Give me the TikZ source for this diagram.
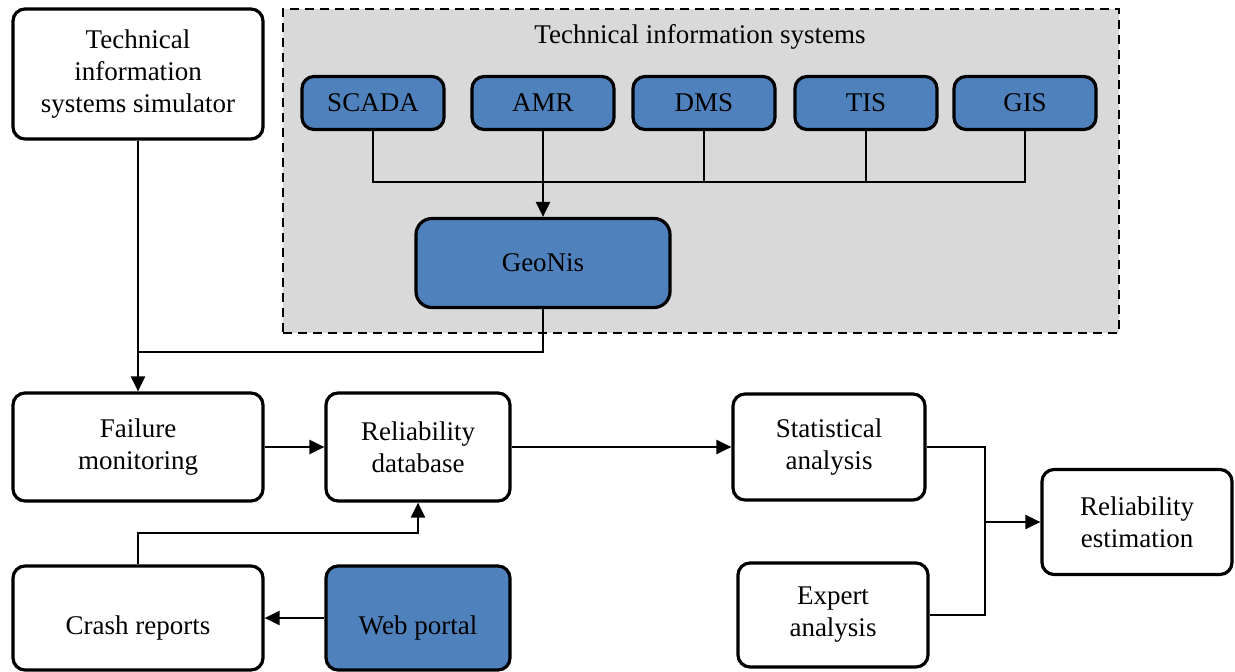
\documentclass[tikz,border=0pt]{standalone}
\usepackage{fontspec}
\setmainfont{Liberation Serif}
\usetikzlibrary{arrows.meta}
\definecolor{sysblue}{HTML}{4F81BD}
\definecolor{sysgray}{HTML}{D9D9D9}

\begin{document}
\begin{tikzpicture}[
        x=1pt, y=-1pt,
        font=\fontsize{27}{32}\selectfont,
        block/.style={
            draw, line width=3.2pt, rounded corners=12pt,
            fill=white, align=center, inner sep=0pt,
            minimum width=#1,
          },
        block/.default=250pt,
        sysblock/.style={
            block=#1, fill=sysblue,
          },
        sysblock/.default=142pt,
        lowtext/.style={text height=38pt, text depth=6pt},
        wire/.style={line width=2.4pt},
        bus/.style={line width=1.8pt},
        arrow/.style={wire, -{Triangle[length=15pt, width=14pt]}},
        ]
        \useasboundingbox (0,0) rectangle (1235,672);
        % group of information systems
        \node(group) [draw, dash pattern=on 9pt off 6pt, line width=2.8pt,
            fill=sysgray, minimum width=836pt, minimum height=324pt] at (701, 171) {};
        \node(grouptitle) at (700, 37) {Technical information systems};
        \node(scada) [sysblock, minimum height=53pt] at (373, 103) {SCADA};
        \node(amr) [sysblock, minimum height=53pt] at (543, 103) {AMR};
        \node(dms) [sysblock, minimum height=53pt] at (704, 103) {DMS};
        \node(tis) [sysblock, minimum height=53pt] at (866, 103) {TIS};
        \node(gis) [sysblock, minimum height=53pt] at (1025, 103) {GIS};
        \node(geonis) [sysblock=254pt, minimum height=89pt, rounded corners=16pt] at (543, 263) {GeoNis};
        % other blocks
        \node(sim) [block, minimum height=130pt] at (138, 74) {Technical\\information\\systems simulator};
        \node(fail) [block, minimum height=108pt] at (138, 447) {Failure\\monitoring};
        \node(reldb) [block=184pt, minimum height=108pt] at (418, 447) {Reliability\\database};
        \node(crash) [block, lowtext, minimum height=104pt] at (138, 618) {Crash reports};
        \node(web) [sysblock=184pt, lowtext, minimum height=104pt] at (418, 618) {Web portal};
        \node(stat) [block=192pt, minimum height=106pt] at (829, 447) {Statistical\\analysis};
        \node(expert) [block=190pt, minimum height=104pt] at (833, 615) {Expert\\analysis};
        \node(relest) [block=190pt, minimum height=105pt] at (1137, 522) {Reliability\\estimation};
        \coordinate(sysbus) at (0, 182);
        \coordinate(join) at (0, 352);
        \coordinate(crashup) at (0, 533);
        \coordinate(merge) at (985, 522);
        % connections
        \draw[bus] (scada.south) |- (sysbus -| gis.south) -- (gis.south);
        \draw[bus] (dms.south) -- (dms.south |- sysbus);
        \draw[bus] (tis.south) -- (tis.south |- sysbus);
        \draw[arrow] (amr.south) -- (geonis.north);
        \draw[wire] (geonis.south) |- (join -| sim.south);
        \draw[arrow] (sim.south) -- (fail.north);
        \draw[arrow] (fail.east) -- (reldb.west);
        \draw[arrow] (crash.north) |- (crashup -| reldb.south) -- (reldb.south);
        \draw[arrow] (web.west) -- (crash.east);
        \draw[arrow] (reldb.east) -- (stat.west);
        \draw[wire] (stat.east) -| (merge);
        \draw[wire] (expert.east) -| (merge);
        \draw[arrow] (merge) -- (relest.west);
    \end{tikzpicture}
\end{document}
